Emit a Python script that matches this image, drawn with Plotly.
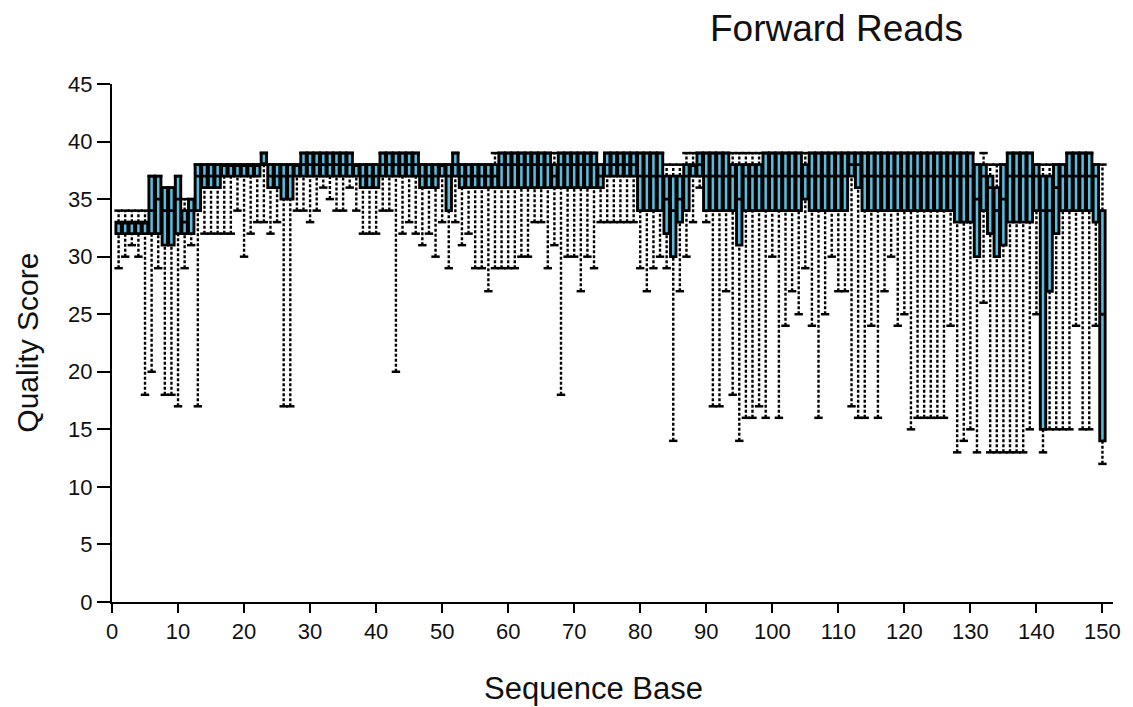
import plotly.graph_objects as go

positions = list(range(1, 151))

lo = [29, 30, 31, 30, 18, 20, 29, 18, 18, 17,
      29, 31, 17, 32, 32, 32, 32, 32, 34, 30,
      32, 33, 33, 32, 33, 17, 17, 34, 34, 33,
      34, 36, 35, 34, 34, 36, 34, 32, 32, 32,
      34, 34, 20, 32, 33, 32, 31, 32, 30, 33,
      29, 33, 31, 32, 29, 29, 27, 29, 29, 29,
      29, 30, 30, 33, 33, 29, 31, 18, 30, 30,
      27, 30, 29, 33, 33, 33, 33, 33, 33, 29,
      27, 29, 30, 29, 14, 27, 30, 33, 36, 33,
      17, 17, 27, 18, 14, 16, 16, 17, 16, 30,
      16, 24, 27, 25, 29, 24, 16, 25, 30, 27,
      27, 17, 16, 16, 24, 16, 27, 30, 24, 25,
      15, 16, 16, 16, 16, 16, 24, 13, 14, 15,
      13, 26, 13, 13, 13, 13, 13, 13, 15, 25,
      13, 15, 15, 15, 15, 24, 15, 15, 24, 12]

q1 = [32, 32, 32, 32, 32, 32, 32, 31, 31, 32,
      32, 32, 34, 36, 36, 36, 37, 37, 37, 37,
      37, 37, 38, 36, 36, 35, 35, 37, 37, 37,
      37, 37, 37, 37, 37, 37, 37, 36, 36, 36,
      37, 37, 37, 37, 37, 37, 36, 36, 36, 37,
      34, 37, 36, 36, 36, 36, 36, 36, 36, 36,
      36, 36, 36, 36, 36, 36, 36, 36, 36, 36,
      36, 36, 36, 36, 37, 37, 37, 37, 37, 34,
      34, 34, 34, 32, 30, 33, 34, 37, 37, 34,
      34, 34, 34, 34, 31, 34, 34, 34, 34, 34,
      34, 34, 34, 34, 35, 34, 34, 34, 34, 34,
      34, 37, 36, 34, 34, 34, 34, 34, 34, 34,
      34, 34, 34, 34, 34, 34, 34, 33, 33, 33,
      30, 34, 32, 30, 31, 33, 33, 33, 33, 34,
      15, 27, 32, 34, 34, 34, 34, 34, 33, 14]

med = [33, 33, 33, 33, 33, 34, 35, 34, 34, 35,
       33, 34, 37, 37, 37, 37, 38, 38, 38, 38,
       38, 38, 38, 37, 37, 37, 37, 38, 38, 38,
       38, 38, 38, 38, 38, 38, 38, 37, 37, 37,
       38, 38, 38, 38, 38, 38, 37, 37, 37, 38,
       37, 38, 37, 37, 37, 37, 37, 37, 38, 38,
       38, 38, 38, 38, 38, 38, 37, 38, 38, 38,
       38, 38, 38, 37, 38, 38, 38, 38, 38, 37,
       37, 37, 37, 35, 34, 35, 37, 38, 38, 37,
       37, 37, 37, 37, 35, 37, 37, 37, 37, 37,
       37, 37, 37, 37, 37, 37, 37, 37, 37, 37,
       37, 38, 38, 37, 37, 37, 37, 37, 37, 37,
       37, 37, 37, 37, 37, 37, 37, 37, 37, 37,
       35, 37, 36, 34, 35, 37, 37, 37, 37, 37,
       34, 34, 36, 37, 37, 37, 37, 37, 37, 25]

q3 = [33, 33, 33, 33, 33, 37, 37, 36, 36, 37,
      34, 35, 38, 38, 38, 38, 38, 38, 38, 38,
      38, 38, 39, 38, 38, 38, 38, 38, 39, 39,
      39, 39, 39, 39, 39, 39, 38, 38, 38, 38,
      39, 39, 39, 39, 39, 39, 38, 38, 38, 38,
      38, 39, 38, 38, 38, 38, 38, 38, 39, 39,
      39, 39, 39, 39, 39, 39, 38, 39, 39, 39,
      39, 39, 39, 38, 39, 39, 39, 39, 39, 39,
      39, 39, 39, 37, 37, 37, 38, 38, 39, 39,
      39, 39, 39, 38, 38, 38, 38, 38, 39, 39,
      39, 39, 39, 39, 38, 39, 39, 39, 39, 39,
      39, 39, 39, 39, 39, 39, 39, 39, 39, 39,
      39, 39, 39, 39, 39, 39, 39, 39, 39, 39,
      38, 38, 37, 36, 38, 39, 39, 39, 39, 38,
      37, 37, 38, 38, 39, 39, 39, 39, 38, 34]

hi = [34, 34, 34, 34, 34, 37, 37, 36, 36, 37,
      35, 35, 38, 38, 38, 38, 38, 38, 38, 38,
      38, 38, 39, 38, 38, 38, 38, 38, 39, 39,
      39, 39, 39, 39, 39, 39, 38, 38, 38, 38,
      39, 39, 39, 39, 39, 39, 38, 38, 38, 38,
      38, 39, 38, 38, 38, 38, 38, 39, 39, 39,
      39, 39, 39, 39, 39, 39, 39, 39, 39, 39,
      39, 39, 39, 38, 39, 39, 39, 39, 39, 39,
      39, 39, 39, 38, 38, 38, 39, 39, 39, 39,
      39, 39, 39, 39, 39, 39, 39, 39, 39, 39,
      39, 39, 39, 39, 39, 39, 39, 39, 39, 39,
      39, 39, 39, 39, 39, 39, 39, 39, 39, 39,
      39, 39, 39, 39, 39, 39, 39, 39, 39, 39,
      38, 39, 38, 38, 38, 39, 39, 39, 39, 38,
      38, 38, 38, 38, 39, 39, 39, 39, 38, 38]

x_ticks = list(range(0, 151, 10))
y_ticks = list(range(0, 46, 5))

FONT = "Liberation Sans, Arial, Helvetica, sans-serif"
BLUE = "#5bbcdc"

fig = go.Figure()

# dashed whiskers (q3 -> hi and lo -> q1)
wx, wy = [], []
for p, a, b in zip(positions, q3, hi):
    wx += [p, p, None]
    wy += [a, b, None]
for p, a, b in zip(positions, lo, q1):
    wx += [p, p, None]
    wy += [a, b, None]
fig.add_trace(go.Scatter(x=wx, y=wy, mode="lines", hoverinfo="skip",
                         line=dict(color="black", width=2.4, dash="3px,2px"),
                         showlegend=False))

# whisker caps
fig.add_trace(go.Scatter(x=positions + positions, y=lo + hi, mode="markers",
                         marker=dict(symbol="line-ew", size=6,
                                     line=dict(color="black", width=2.5)),
                         hoverinfo="skip", showlegend=False))

# boxes
fig.add_trace(go.Box(x=positions, q1=q1, median=med, q3=q3,
                     lowerfence=q1, upperfence=q3,
                     fillcolor=BLUE, line=dict(color="black", width=2.9),
                     whiskerwidth=0, width=0.82, boxpoints=False,
                     showlegend=False))

# the page adds an 8px body margin; compensate so the plot lands where the reference has it
OFF = 8
W, H = 1133 - OFF, 707 - OFF
L, R, T, B = 112 - OFF, 12, 84 - OFF, 105
pw, ph = W - L - R, H - T - B

def px(x):
    return (x - OFF - L) / pw

def py(y):
    return (H - B - (y - OFF)) / ph

fig.update_layout(
    width=W, height=H,
    margin=dict(l=L, r=R, t=T, b=B),
    paper_bgcolor="white", plot_bgcolor="white",
    font=dict(family=FONT, color="#111111", size=22),
    showlegend=False,
    xaxis=dict(range=[0, 151.6], tickvals=x_ticks, ticks="outside", ticklen=9,
               tickwidth=2, tickcolor="black", showline=True, linewidth=2,
               linecolor="black", showgrid=False, zeroline=False,
               tickfont=dict(size=22)),
    yaxis=dict(range=[0, 45], tickvals=y_ticks, ticks="outside", ticklen=13,
               tickwidth=2, tickcolor="black", showline=True, linewidth=2,
               linecolor="black", showgrid=False, zeroline=False,
               tickfont=dict(size=22)),
    annotations=[
        dict(text="Forward Reads", xref="paper", yref="paper", x=px(842), y=py(28),
             showarrow=False, font=dict(size=37, color="#111111"), xanchor="center", yanchor="middle"),
        dict(text="Sequence Base", xref="paper", yref="paper", x=px(597), y=py(688),
             showarrow=False, font=dict(size=31, color="#111111"), xanchor="center", yanchor="middle"),
        dict(text="Quality Score", xref="paper", yref="paper", x=px(26), y=py(343),
             showarrow=False, textangle=-90, font=dict(size=30, color="#111111"),
             xanchor="center", yanchor="middle"),
    ],
)

fig.write_html("out.html")
